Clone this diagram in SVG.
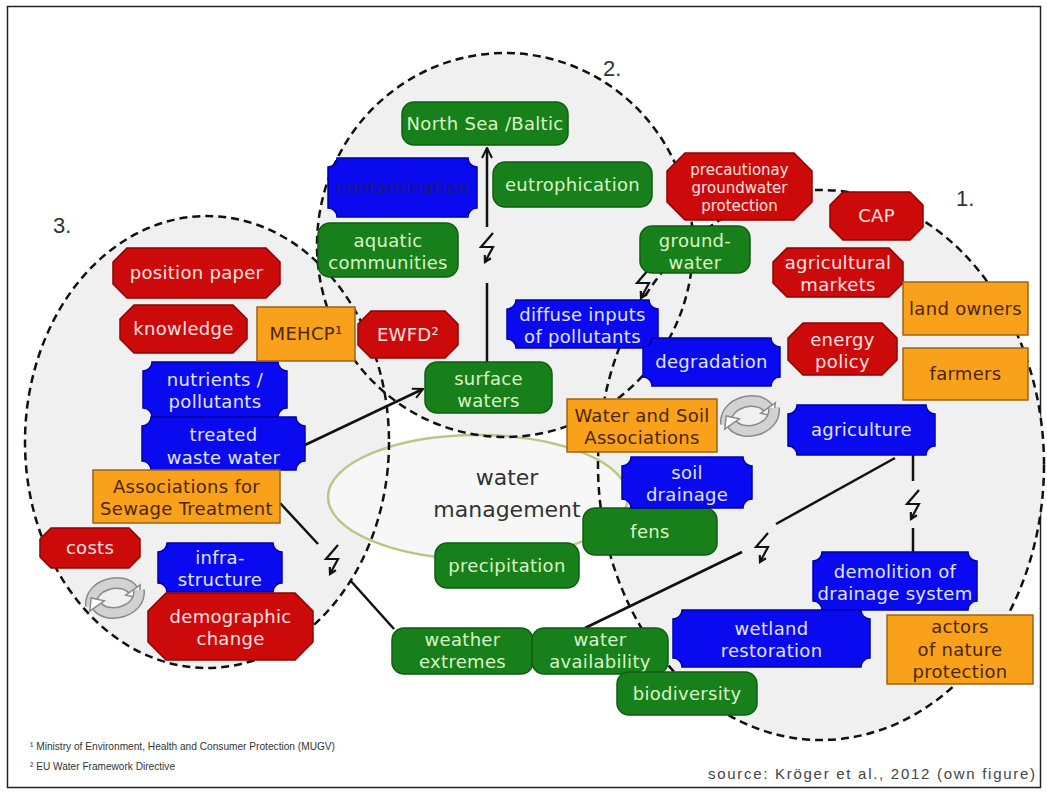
<svg xmlns="http://www.w3.org/2000/svg" width="1047" height="794" viewBox="0 0 1047 794">
<style>
 .zone{fill:#f0f0f0}
 .zline{fill:none;stroke:#111;stroke-width:2.5;stroke-dasharray:8 5}
 .wm{fill:#f7f7f7;stroke:#b7c987;stroke-width:2.5}
 .g rect{fill:#17801a;stroke:#0e5e10;stroke-width:1.5}
 .g text{fill:#dcf4c8}
 .r polygon{fill:#cc0a0a;stroke:#8e0000;stroke-width:1.5}
 .r text{fill:#ffe2e2}
 .b path{fill:#0a0af0;stroke:#0000a8;stroke-width:1.5}
 .b text{fill:#e0e4ff}
 .o rect{fill:#f9a11b;stroke:#9a6418;stroke-width:1.5}
 .o text{fill:#4a2600}
 text.t{font-family:"DejaVu Sans",Verdana,sans-serif;font-size:18px;text-anchor:middle;letter-spacing:0.3px}
 text.s{font-size:15px;letter-spacing:0}
 .conn{fill:none;stroke:#111;stroke-width:2.5}
 .bolt{fill:none;stroke:#111;stroke-width:2.2;stroke-linejoin:miter}
 .lbl{font-family:"Liberation Sans",Arial,sans-serif;font-size:22px;fill:#333}
 .foot{font-family:"Liberation Sans",Arial,sans-serif;font-size:11px;fill:#333}
 .src{font-family:"Liberation Sans",Arial,sans-serif;font-size:15px;fill:#444}
</style>
<defs>
 <marker id="arr" viewBox="0 0 12 12" refX="11" refY="6" markerWidth="12" markerHeight="12" markerUnits="userSpaceOnUse" orient="auto">
  <path d="M1,1 L11,6 L1,11" fill="none" stroke="#111" stroke-width="2"/>
 </marker>
 <g id="bolt" class="bolt">
  <path d="M6,-15 L-6,-1 L6,-1 L-2,14"/>
  <path d="M3.9,10.3 L-2,14 L-2.2,7"/>
 </g>
 <g id="rc-half">
  <path d="M-24,8 C-26,-14 8,-22 18,-8" fill="none" stroke="#8a8a8a" stroke-width="12"/>
  <path d="M-24,8 C-26,-14 8,-22 18,-8" fill="none" stroke="#d2d2d2" stroke-width="9"/>
  <polygon points="25.3,-13.2 23.8,0.1 10.7,-2.8" fill="#fff" stroke="#8a8a8a" stroke-width="1.5"/>
 </g>
 <g id="recycle">
  <use href="#rc-half"/>
  <use href="#rc-half" transform="rotate(180)"/>
 </g>
</defs>

<rect x="0" y="0" width="1047" height="794" fill="#fff"/>
<rect x="7.5" y="6.5" width="1033" height="781" fill="none" stroke="#222" stroke-width="1.5"/>

<g id="zones">
 <ellipse class="zone" cx="821" cy="465" rx="223" ry="275"/>
 <ellipse class="zone" cx="505" cy="245" rx="188" ry="192"/>
 <ellipse class="zone" cx="207" cy="442" rx="182" ry="226"/>
 <ellipse class="wm" cx="478" cy="497" rx="150" ry="62"/>
 <ellipse class="zline" cx="821" cy="465" rx="223" ry="275"/>
 <ellipse class="zline" cx="505" cy="245" rx="188" ry="192"/>
 <ellipse class="zline" cx="207" cy="442" rx="182" ry="226"/>
 <text class="lbl" x="956" y="206">1.</text>
 <text class="lbl" x="603" y="76">2.</text>
 <text class="lbl" x="53" y="233">3.</text>
 <text x="507" y="485" font-family="DejaVu Sans, Verdana, sans-serif" font-size="22" fill="#333" text-anchor="middle">water</text>
 <text x="507" y="517" font-family="DejaVu Sans, Verdana, sans-serif" font-size="22" fill="#333" text-anchor="middle">management</text>
</g>

<g id="connectors">
 <line class="conn" x1="305" y1="445" x2="423" y2="389" marker-end="url(#arr)"/>
 <path class="conn" d="M487,362 V283"/>
 <path class="conn" d="M487,227 V148" marker-end="url(#arr)"/>
 <path class="conn" d="M280,503 L318,544"/>
 <path class="conn" d="M350,580 L394,629"/>
 <path class="conn" d="M913,455 V481"/>
 <path class="conn" d="M913,528 V552"/>
 <path class="conn" d="M895,458 L776,524"/>
 <path class="conn" d="M742,552 L585,628"/>
 <use href="#bolt" x="487" y="248"/>
 <use href="#bolt" x="643" y="284"/>
 <use href="#bolt" x="332" y="560"/>
 <use href="#bolt" x="913" y="505"/>
 <use href="#bolt" x="762" y="548"/>
 <use href="#recycle" transform="translate(115,598)"/>
 <use href="#recycle" transform="translate(750,416)"/>
</g>

<!-- green nodes -->
<g id="n-northsea" class="g"><rect x="402" y="102" width="166" height="43" rx="12"/><text class="t" x="485" y="130">North Sea /Baltic</text></g>
<g id="n-eutrophication" class="g"><rect x="493" y="162" width="159" height="45" rx="12"/><text class="t" x="572.5" y="190.5">eutrophication</text></g>
<g id="n-aquatic" class="g"><rect x="318" y="223" width="140" height="54" rx="12"/><text class="t" x="388" y="247">aquatic</text><text class="t" x="388" y="269">communities</text></g>
<g id="n-groundwater" class="g"><rect x="640" y="226" width="110" height="47" rx="12"/><text class="t" x="695" y="246.5">ground-</text><text class="t" x="695" y="268.5">water</text></g>
<g id="n-surface" class="g"><rect x="425" y="362" width="127" height="51" rx="12"/><text class="t" x="488.5" y="384.5">surface</text><text class="t" x="488.5" y="406.5">waters</text></g>
<g id="n-precipitation" class="g"><rect x="435" y="543" width="144" height="45" rx="12"/><text class="t" x="507" y="571.5">precipitation</text></g>
<g id="n-fens" class="g"><rect x="583" y="508" width="134" height="47" rx="12"/><text class="t" x="650" y="537.5">fens</text></g>
<g id="n-weather" class="g"><rect x="392" y="628" width="141" height="46" rx="12"/><text class="t" x="462.5" y="646">weather</text><text class="t" x="462.5" y="668">extremes</text></g>
<g id="n-availability" class="g"><rect x="532" y="628" width="136" height="46" rx="12"/><text class="t" x="600" y="646">water</text><text class="t" x="600" y="668">availability</text></g>
<g id="n-biodiversity" class="g"><rect x="617" y="672" width="140" height="43" rx="12"/><text class="t" x="687" y="699.5">biodiversity</text></g>

<!-- blue nodes -->
<g id="n-contamination" class="b"><path d="M337,158 H468 A9 9 0 0 0 477,167 V208 A9 9 0 0 0 468,217 H337 A9 9 0 0 0 328,208 V167 A9 9 0 0 0 337,158 Z"/><text class="t" x="402.5" y="193.5" style="fill:#1a1a7a">contamination</text></g>
<g id="n-diffuse" class="b"><path d="M516,300 H649 A9 9 0 0 0 658,309 V339 A9 9 0 0 0 649,348 H516 A9 9 0 0 0 507,339 V309 A9 9 0 0 0 516,300 Z"/><text class="t" x="582.5" y="321">diffuse inputs</text><text class="t" x="582.5" y="343">of pollutants</text></g>
<g id="n-degradation" class="b"><path d="M652,338 H771 A9 9 0 0 0 780,347 V377 A9 9 0 0 0 771,386 H652 A9 9 0 0 0 643,377 V347 A9 9 0 0 0 652,338 Z"/><text class="t" x="711.5" y="368">degradation</text></g>
<g id="n-nutrients" class="b"><path d="M152,362 H278 A9 9 0 0 0 287,371 V408 A9 9 0 0 0 278,417 H152 A9 9 0 0 0 143,408 V371 A9 9 0 0 0 152,362 Z"/><text class="t" x="215" y="386">nutrients /</text><text class="t" x="215" y="408">pollutants</text></g>
<g id="n-treated" class="b"><path d="M151,417 H296 A9 9 0 0 0 305,426 V461 A9 9 0 0 0 296,470 H151 A9 9 0 0 0 142,461 V426 A9 9 0 0 0 151,417 Z"/><text class="t" x="223.5" y="441">treated</text><text class="t" x="223.5" y="464">waste water</text></g>
<g id="n-infra" class="b"><path d="M167,543 H273 A9 9 0 0 0 282,552 V583 A9 9 0 0 0 273,592 H167 A9 9 0 0 0 158,583 V552 A9 9 0 0 0 167,543 Z"/><text class="t" x="220" y="564">infra-</text><text class="t" x="220" y="586">structure</text></g>
<g id="n-soil" class="b"><path d="M631,457 H743 A9 9 0 0 0 752,466 V499 A9 9 0 0 0 743,508 H631 A9 9 0 0 0 622,499 V466 A9 9 0 0 0 631,457 Z"/><text class="t" x="687" y="479">soil</text><text class="t" x="687" y="501">drainage</text></g>
<g id="n-agriculture" class="b"><path d="M797,405 H926 A9 9 0 0 0 935,414 V446 A9 9 0 0 0 926,455 H797 A9 9 0 0 0 788,446 V414 A9 9 0 0 0 797,405 Z"/><text class="t" x="861.5" y="436">agriculture</text></g>
<g id="n-demolition" class="b"><path d="M822,552 H968 A9 9 0 0 0 977,561 V601 A9 9 0 0 0 968,610 H822 A9 9 0 0 0 813,601 V561 A9 9 0 0 0 822,552 Z"/><text class="t" x="895" y="578">demolition of</text><text class="t" x="895" y="600">drainage system</text></g>
<g id="n-wetland" class="b"><path d="M682,610 H861 A9 9 0 0 0 870,619 V658 A9 9 0 0 0 861,667 H682 A9 9 0 0 0 673,658 V619 A9 9 0 0 0 682,610 Z"/><text class="t" x="771.5" y="635">wetland</text><text class="t" x="771.5" y="657">restoration</text></g>

<!-- red nodes -->
<g id="n-precautionary" class="r"><polygon points="685,153 794,153 812,171 812,202 794,220 685,220 667,202 667,171"/><text class="t s" x="739.5" y="175">precautionay</text><text class="t s" x="739.5" y="193">groundwater</text><text class="t s" x="739.5" y="211">protection</text></g>
<g id="n-cap" class="r"><polygon points="843,192 910,192 923,205 923,227 910,240 843,240 830,227 830,205"/><text class="t" x="876.5" y="222">CAP</text></g>
<g id="n-markets" class="r"><polygon points="787,248 889,248 903,262 903,283 889,297 787,297 773,283 773,262"/><text class="t" x="838" y="269">agricultural</text><text class="t" x="838" y="291">markets</text></g>
<g id="n-energy" class="r"><polygon points="803,323 882,323 897,338 897,360 882,375 803,375 788,360 788,338"/><text class="t" x="842.5" y="346">energy</text><text class="t" x="842.5" y="368">policy</text></g>
<g id="n-ewfd" class="r"><polygon points="371,311 445,311 458,324 458,345 445,358 371,358 358,345 358,324"/><text class="t" x="408" y="341">EWFD²</text></g>
<g id="n-position" class="r"><polygon points="127,248 266,248 280,262 280,284 266,298 127,298 113,284 113,262"/><text class="t" x="196.5" y="279">position paper</text></g>
<g id="n-knowledge" class="r"><polygon points="134,305 233,305 247,319 247,339 233,353 134,353 120,339 120,319"/><text class="t" x="183.5" y="335">knowledge</text></g>
<g id="n-costs" class="r"><polygon points="51,528 129,528 140,539 140,557 129,568 51,568 40,557 40,539"/><text class="t" x="90" y="554">costs</text></g>
<g id="n-demographic" class="r"><polygon points="166,593 295,593 313,611 313,642 295,660 166,660 148,642 148,611"/><text class="t" x="230.5" y="623">demographic</text><text class="t" x="230.5" y="645">change</text></g>

<!-- orange nodes -->
<g id="n-mehcp" class="o"><rect x="257" y="307" width="98" height="54"/><text class="t" x="306" y="340">MEHCP¹</text></g>
<g id="n-sewage" class="o"><rect x="93" y="470" width="187" height="53"/><text class="t" x="186.5" y="493">Associations for</text><text class="t" x="186.5" y="515">Sewage Treatment</text></g>
<g id="n-watersoil" class="o"><rect x="567" y="399" width="150" height="53"/><text class="t" x="642" y="422">Water and Soil</text><text class="t" x="642" y="444">Associations</text></g>
<g id="n-landowners" class="o"><rect x="903" y="282" width="125" height="53"/><text class="t" x="965.5" y="314.5">land owners</text></g>
<g id="n-farmers" class="o"><rect x="903" y="348" width="125" height="52"/><text class="t" x="965.5" y="380">farmers</text></g>
<g id="n-actors" class="o"><rect x="887" y="615" width="146" height="69"/><text class="t" x="960" y="633">actors</text><text class="t" x="960" y="656">of nature</text><text class="t" x="960" y="678">protection</text></g>

<g id="notes">
 <text class="foot" x="30" y="750" textLength="305" lengthAdjust="spacingAndGlyphs">¹ Ministry of Environment, Health and Consumer Protection (MUGV)</text>
 <text class="foot" x="30" y="770" textLength="145" lengthAdjust="spacingAndGlyphs">² EU Water Framework Directive</text>
 <text class="src" x="708" y="779" textLength="327" lengthAdjust="spacing">source: Kröger et al., 2012 (own figure)</text>
</g>
</svg>
